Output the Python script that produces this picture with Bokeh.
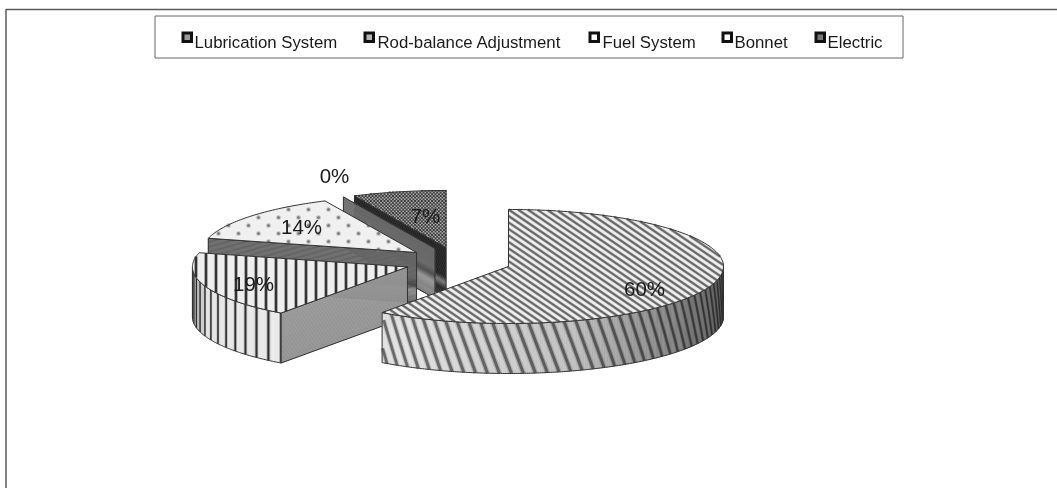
import numpy as np
from bokeh.plotting import figure
from bokeh.models import Range1d
from bokeh.core.properties import value
from bokeh.embed import file_html
from bokeh.resources import INLINE

# ---- data
CATEGORIES = ["Lubrication System", "Rod-balance Adjustment", "Fuel System", "Bonnet", "Electric"]
SHARES = [60, 19, 14, 0, 7]

# ---- layout (pixels of the reference picture)
W, H = 1057, 488
RX, RY, DEPTH = 215.0, 57.0, 50.0
CX, CY, EXPL_X, EXPL_Y = 457.2, 261.4, 53.4, 14.8
LABEL_XY = [(644, 288), (253, 283), (301, 226), (334, 175), (425, 215)]
LEG_ICON_X = [181, 363, 588, 721, 814]
LEG_TEXT_X = [194, 377, 602, 734, 827]
LEG_INNER = ["#9a9a9a", "#b8b8b8", "#ffffff", "#ffffff", "#777777"]
FONT = value("Liberation Sans")
INK = "#1a1a1a"
EDGE = "#333333"

p = figure(width=W, height=H, x_range=Range1d(0, W), y_range=Range1d(H, 0),
           output_backend="svg", toolbar_location=None, min_border=0,
           outline_line_color=None, background_fill_color="white", border_fill_color="white")
p.axis.visible = False
p.grid.visible = False
p.styles = {"position": "fixed", "left": "0px", "top": "0px"}


def grey(v):
    v = int(np.clip(round(v), 0, 255))
    return "#%02x%02x%02x" % (v, v, v)


def rim(ax, ay, t):
    return ax + RX * np.sin(t), ay - RY * np.cos(t)


def sector(ax, ay, t0, t1):
    n = max(2, int(np.degrees(t1 - t0)) + 2)
    ts = np.linspace(t0, t1, n)
    x, y = rim(ax, ay, ts)
    return np.r_[ax, x], np.r_[ay, y]


def clip(px, py, ox, oy, dx, dy):
    """intervals of the line o + s*d that lie inside polygon (even-odd)"""
    ss = []
    n = len(px)
    for i in range(n):
        x0, y0, x1, y1 = px[i], py[i], px[(i + 1) % n], py[(i + 1) % n]
        ex, ey = x1 - x0, y1 - y0
        den = dx * ey - dy * ex
        if abs(den) < 1e-9:
            continue
        s = ((x0 - ox) * ey - (y0 - oy) * ex) / den
        u = ((x0 - ox) * dy - (y0 - oy) * dx) / den
        if 0 <= u < 1:
            ss.append(s)
    ss.sort()
    return [(ss[i], ss[i + 1]) for i in range(0, len(ss) - 1, 2)]


def inside(px, py, x, y):
    c = False
    n = len(px)
    for i in range(n):
        x0, y0, x1, y1 = px[i], py[i], px[(i + 1) % n], py[(i + 1) % n]
        if (y0 > y) != (y1 > y) and x < (x1 - x0) * (y - y0) / (y1 - y0) + x0:
            c = not c
    return c


def hatch(px, py, dirx, diry, nx_step, ny_step, count, ox, oy, color, width):
    xs, ys = [], []
    for k in range(-count, count):
        o0, o1 = ox + k * nx_step, oy + k * ny_step
        for a, b in clip(px, py, o0, o1, dirx, diry):
            xs.append([o0 + a * dirx, o0 + b * dirx])
            ys.append([o1 + a * diry, o1 + b * diry])
    p.multi_line(xs, ys, line_color=color, line_width=width + 1.2, line_alpha=0.25)
    p.multi_line(xs, ys, line_color=color, line_width=width)


def shade(t):
    return np.interp(np.sin(t), [-1, -0.93, -0.5, 0.3, 0.8, 1], [0.72, 0.97, 1.0, 0.85, 0.56, 0.42])


def wall(ax, ay, t0, t1, light, dark, step_deg, lean_deg, width):
    lo, hi = max(t0, np.pi / 2), min(t1, 3 * np.pi / 2)
    ts = np.linspace(lo, hi, int(np.degrees(hi - lo)) * 2 + 2)
    xs, ys, cs = [], [], []
    for a, b in zip(ts[:-1], ts[1:]):
        xa, ya = rim(ax, ay, a)
        xb, yb = rim(ax, ay, b)
        xs.append([xa, xb, xb, xa])
        ys.append([ya, yb, yb + DEPTH, ya + DEPTH])
        cs.append(grey(light * shade((a + b) / 2)))
    p.patches(xs, ys, fill_color=cs, line_color=cs, line_width=0.6)
    step, lean = np.radians(step_deg), np.radians(lean_deg)
    sx, sy, sc, sw, sb = [], [], [], [], []
    for t in np.arange(lo - lean, hi + lean, step):
        u = np.linspace(0, 1, 8)
        tt = t - lean * u
        keep = (tt >= lo) & (tt <= hi)
        if keep.sum() < 2:
            continue
        x, y = rim(ax, ay, tt[keep])
        sx.append(list(x))
        sy.append(list(y + DEPTH * u[keep]))
        sc.append(grey(dark * shade(t)))
        w = width * (0.3 + 0.7 * abs(np.cos(t - lean / 2)))
        sw.append(w)
        sb.append(w + 2.4 * abs(np.cos(t)))
    p.multi_line(sx, sy, line_color=sc, line_width=sb, line_alpha=0.3)
    p.multi_line(sx, sy, line_color=sc, line_width=sw)
    top = rim(ax, ay, ts)
    p.patch(np.r_[top[0], top[0][::-1]], np.r_[top[1], top[1][::-1] + DEPTH],
            fill_alpha=0, line_color=EDGE, line_width=1)


def face(ax, ay, t, stops, values):
    ex, ey = rim(ax, ay, t)
    ds = np.linspace(0, 1, 41)
    xs, ys, cs = [], [], []
    for a, b in zip(ds[:-1], ds[1:]):
        xs.append([ax, ex, ex, ax])
        ys.append([ay + a * DEPTH, ey + a * DEPTH, ey + b * DEPTH, ay + b * DEPTH])
        cs.append(grey(np.interp((a + b) / 2, stops, values)))
    p.patches(xs, ys, fill_color=cs, line_color=cs, line_width=0.5)
    p.patch([ax, ex, ex, ax], [ay, ey, ey + DEPTH, ay + DEPTH], fill_alpha=0,
            line_color=EDGE, line_width=1)


# ---- chart frame
p.line([5.5, 5.5, W], [H, 9, 9], line_color="#5a5a5a", line_width=1.5)

# ---- slice geometry from the values
total = float(sum(SHARES))
cum = np.r_[0, np.cumsum(SHARES)] / total * 2 * np.pi
geo = []
for i in range(len(SHARES)):
    mid = (cum[i] + cum[i + 1]) / 2
    geo.append((CX + EXPL_X * np.sin(mid), CY - EXPL_Y * np.cos(mid), cum[i], cum[i + 1]))

# Electric (back)
ax, ay, t0, t1 = geo[4]
face(ax, ay, t0, [0, 0.6, 0.72, 0.85, 1], [30, 30, 120, 35, 45])
px, py = sector(ax, ay, t0, t1)
p.patch(px, py, fill_color="#b4b4b4", line_color=None)
gx, gy = [], []
for r, yy in enumerate(np.arange(py.min() - 3, py.max() + 3, 1.7)):
    for xx in np.arange(px.min() - 4 + (r % 2) * 1.7, px.max() + 4, 3.4):
        if inside(px, py, xx, yy):
            gx.append(xx)
            gy.append(yy)
p.scatter(gx, gy, marker="square", size=1.9, fill_color="#3c3c3c", line_color=None)
p.patch(px, py, fill_alpha=0, line_color=EDGE, line_width=1)

# Bonnet (0 %, only its cut face shows)
ax, ay, t0, t1 = geo[3]
face(ax, ay, t0, [0, 0.42, 0.55, 0.68, 1], [108, 112, 80, 160, 120])

# Fuel System
ax, ay, t0, t1 = geo[2]
face(ax, ay, t0, [0, 0.5, 0.66, 0.76, 1], [102, 102, 70, 140, 100])
px, py = sector(ax, ay, t0, t1)
p.patch(px, py, fill_color="#f0f0f0", line_color=None)
gx, gy = [], []
for r in range(-3, 8):
    yy = 209 + 8.0 * r
    for k in range(-12, 12):
        xx = 288 + 20.0 * k + (r % 2) * 10
        if inside(px, py, xx, yy):
            gx.append(xx)
            gy.append(yy)
p.scatter(gx, gy, marker="circle", size=5, fill_color="#8a8a8a", fill_alpha=0.35, line_color=None)
p.scatter(gx, gy, marker="circle", size=3, fill_color="#808080", line_color=None)
p.patch(px, py, fill_alpha=0, line_color=EDGE, line_width=1)

# Rod-balance Adjustment
ax, ay, t0, t1 = geo[1]
wall(ax, ay, t0, t1, 236, 48, 4.3, 0, 2.4)
face(ax, ay, t0, [0, 1], [150, 145])
px, py = sector(ax, ay, t0, t1)
p.patch(px, py, fill_color="#eeeeee", line_color=None)
hatch(px, py, 0, 1, 10, 0, 30, 205.5, 200, "#333333", 2.4)
p.patch(px, py, fill_alpha=0, line_color=EDGE, line_width=1)

# Lubrication System (front)
ax, ay, t0, t1 = geo[0]
wall(ax, ay, t0, t1, 226, 105, 3.2, 5, 3.0)
px, py = sector(ax, ay, t0, t1)
p.patch(px, py, fill_color="#f0f0f0", line_color=None)
hatch(px, py, 1, 0.68, 9.5, 0, 50, 508, 209, "#6a6a6a", 2.1)
p.patch(px, py, fill_alpha=0, line_color=EDGE, line_width=1)

# ---- percentage labels
p.text([q[0] for q in LABEL_XY], [q[1] for q in LABEL_XY], text=[f"{v}%" for v in SHARES],
       text_font=FONT, text_font_size="20.5px", text_color=INK,
       text_align="center", text_baseline="middle")

# ---- legend
p.patch([154.5, 902.5, 902.5, 154.5], [15.5, 15.5, 57.5, 57.5], fill_color="white",
        line_color="#666666", line_width=1)
ix = np.array(LEG_ICON_X, dtype=float)
p.quad(left=ix, right=ix + 11.5, top=31, bottom=42.5, fill_color="#111111", line_color=None)
p.quad(left=ix + 3, right=ix + 8.5, top=34, bottom=39.5, fill_color=LEG_INNER, line_color=None)
p.text(LEG_TEXT_X, [42] * 5, text=CATEGORIES, text_font=FONT, text_font_size="16.8px",
       text_color=INK, text_align="left", text_baseline="alphabetic")

open("out.html", "w").write(file_html(p, INLINE))
